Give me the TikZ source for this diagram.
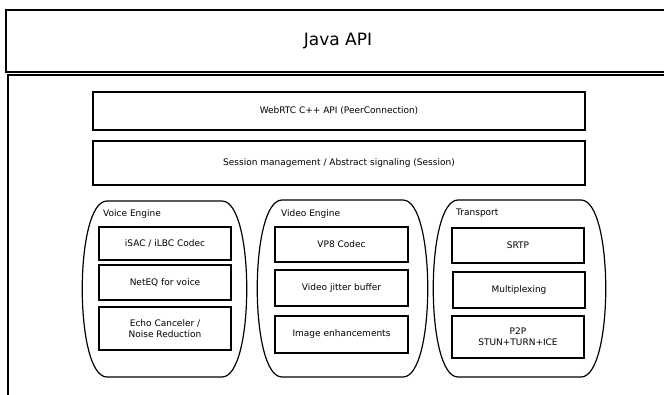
\documentclass[tikz,border=0pt]{standalone}
\usepackage{fontspec}
\setmainfont{DejaVu Sans}
\begin{document}
\begin{tikzpicture}[x=1pt,y=-1pt,
  box/.style={draw=black, line width=1.2pt, rectangle, inner sep=0pt, outer sep=0pt, anchor=north west, font=\fontsize{9}{11}\selectfont, align=center},
  bigbox/.style={draw=black, line width=1.4pt, rectangle, inner sep=0pt, outer sep=0pt, anchor=north west},
  barrel/.style={draw=black, line width=1.2pt},
  grouplabel/.style={anchor=west, inner sep=0pt, font=\fontsize{9}{11}\selectfont}]
\useasboundingbox (0,0) rectangle (664,394);
\clip (0,0) rectangle (664,394);
% top-level boxes
\node[bigbox, minimum width=664pt, minimum height=62pt, font=\fontsize{17}{20}\selectfont] (java) at (6,10) {Java API};
\node[bigbox, minimum width=664pt, minimum height=330pt] (outer) at (8,75) {};
\node[box, minimum width=492pt, minimum height=38pt] (webrtc) at (93,92) {WebRTC C++ API (PeerConnection)};
\node[box, minimum width=492pt, minimum height=44pt] (session) at (93,141) {Session management / Abstract signaling (Session)};
% barrels
\newcommand{\barrelshape}[4]{%
  \draw[barrel] (#1+25,#3) -- (#2-25,#3) .. controls (#2+8,#3) and (#2+8,#4) .. (#2-25,#4)
    -- (#1+25,#4) .. controls (#1-8,#4) and (#1-8,#3) .. cycle;}
\barrelshape{82}{247}{201}{377}
\barrelshape{257}{428}{200}{377}
\barrelshape{433}{606}{200}{377}
\node[grouplabel] (voicelbl) at (103,214) {Voice Engine};
\node[grouplabel] (videolbl) at (281,214) {Video Engine};
\node[grouplabel] (translbl) at (456,213) {Transport};
% voice engine
\node[box, minimum width=132pt, minimum height=33pt] (isac) at (99,227) {iSAC / iLBC Codec};
\node[box, minimum width=132pt, minimum height=35pt] (neteq) at (99,265) {NetEQ for voice};
\node[box, minimum width=132pt, minimum height=43pt] (echo) at (99,307) {Echo Canceler /\\Noise Reduction};
% video engine
\node[box, minimum width=133pt, minimum height=35pt] (vp8) at (275,227) {VP8 Codec};
\node[box, minimum width=133pt, minimum height=36pt] (jitter) at (275,270) {Video jitter buffer};
\node[box, minimum width=133pt, minimum height=37pt] (image) at (275,316) {Image enhancements};
% transport
\node[box, minimum width=132pt, minimum height=35pt] (srtp) at (452,228) {SRTP};
\node[box, minimum width=132pt, minimum height=36pt] (mux) at (453,272) {Multiplexing};
\node[box, minimum width=132pt, minimum height=42pt] (p2p) at (452,316) {P2P\\STUN+TURN+ICE};
\end{tikzpicture}
\end{document}
